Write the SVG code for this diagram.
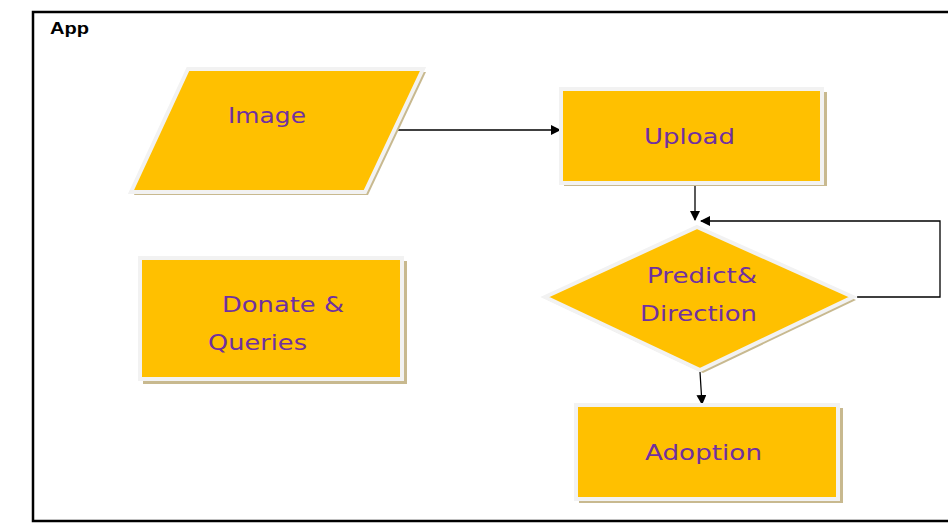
<svg xmlns="http://www.w3.org/2000/svg" width="948" height="525" viewBox="0 0 948 525">
<defs>
<style>
.shadow{fill:#C8B98F;}
.shape{fill:#FFC000;stroke:#F2F2F2;stroke-width:4;}
.lbl{font-family:"DejaVu Sans",Verdana,sans-serif;font-size:21px;fill:#7030A0;}
.conn{stroke:#000;stroke-width:1.3;fill:none;}
</style>
<marker id="arr" viewBox="0 0 10 10" refX="9" refY="5" markerWidth="10" markerHeight="10" markerUnits="userSpaceOnUse" orient="auto">
<path d="M0,0 L10,5 L0,10 z" fill="#000"/>
</marker>
</defs>
<rect width="948" height="525" fill="#fff"/>
<g id="frame">
<path d="M948,12 L33,12 L33,521 L948,521" fill="none" stroke="#000" stroke-width="2.5"/>
<text x="50" y="34" font-family="Liberation Sans,Arial,sans-serif" font-weight="bold" font-size="16" fill="#000" textLength="39" lengthAdjust="spacingAndGlyphs">App</text>
</g>
<g id="connectors">
<line class="conn" x1="395" y1="130" x2="560" y2="130" marker-end="url(#arr)"/>
<line class="conn" x1="695" y1="184" x2="695" y2="220" marker-end="url(#arr)"/>
<polyline class="conn" stroke="#444" points="857,297 940,297 940,221 701,221" marker-end="url(#arr)"/>
<line class="conn" x1="700" y1="372" x2="702" y2="404" marker-end="url(#arr)"/>
</g>
<g id="image">
<polygon class="shadow" points="191,72 426,72 368,195 134,195"/>
<polygon class="shape" points="188,69 423,69 365,192 131,192"/>
<text class="lbl" x="228" y="123" textLength="78" lengthAdjust="spacingAndGlyphs">Image</text>
</g>
<g id="upload">
<rect class="shadow" x="564" y="92" width="263" height="94"/>
<rect class="shape" x="561" y="89" width="261" height="94"/>
<text class="lbl" x="644" y="144" textLength="91" lengthAdjust="spacingAndGlyphs">Upload</text>
</g>
<g id="predict">
<polygon class="shadow" points="700,230 856,300 703,373 548,300"/>
<polygon class="shape" points="697,227 853,297 700,370 545,297"/>
<text class="lbl" x="647" y="283" textLength="110" lengthAdjust="spacingAndGlyphs">Predict&amp;</text>
<text class="lbl" x="640" y="321" textLength="117" lengthAdjust="spacingAndGlyphs">Direction</text>
</g>
<g id="donate">
<rect class="shadow" x="143" y="261" width="264" height="123"/>
<rect class="shape" x="140" y="258" width="262" height="121"/>
<text class="lbl" x="222" y="312" textLength="122" lengthAdjust="spacingAndGlyphs">Donate &amp;</text>
<text class="lbl" x="208" y="350" textLength="99" lengthAdjust="spacingAndGlyphs">Queries</text>
</g>
<g id="adoption">
<rect class="shadow" x="579" y="408" width="264" height="95"/>
<rect class="shape" x="576" y="405" width="262" height="94"/>
<text class="lbl" x="645" y="460" textLength="117" lengthAdjust="spacingAndGlyphs">Adoption</text>
</g>
</svg>
